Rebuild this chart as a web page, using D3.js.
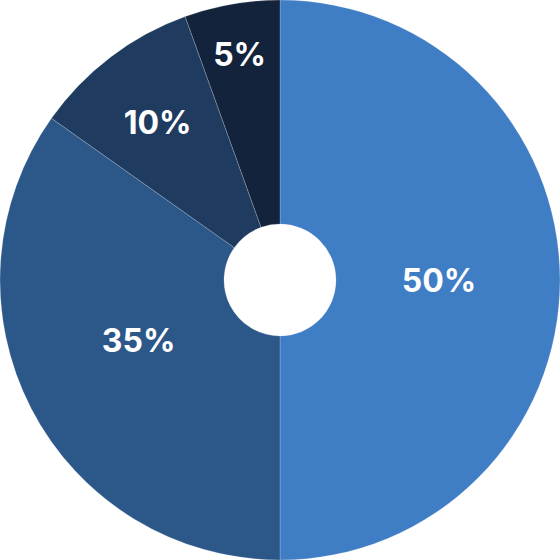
<!DOCTYPE html>
<html><head><meta charset="utf-8">
<script src="https://cdn.jsdelivr.net/npm/d3@7"></script>
<style>html,body{margin:0;padding:0;background:#fff;}svg{display:block;}</style>
</head><body>
<svg id="chart" width="560" height="560"></svg>
<script>
const categories = ["A", "B", "C", "D"];
const values = [50, 34.8, 9.7, 5.5];
const labels = ["50%", "35%", "10%", "5%"];
const colors = ["#3f7dc5", "#2c5789", "#1f3c60", "#13233b"];

const W = 560, H = 560, R = 280, r0 = 56;
const svg = d3.select("#chart");
const g = svg.append("g").attr("transform", `translate(${W/2},${H/2})`);

const pie = d3.pie().sort(null).value(d => d.v);
const arcs = pie(values.map((v, i) => ({v, i})));
const arc = d3.arc().innerRadius(r0).outerRadius(R);

g.selectAll("path").data(arcs).join("path")
  .attr("d", arc)
  .attr("fill", d => colors[d.index])
  .attr("stroke", "rgba(255,255,255,0.25)")
  .attr("stroke-width", 0.8);

// label placement style: radius and small angular nudge per slice
const labelRadius = [159, 154, 199, 228];
const labelNudge = [0.5, 4, -0.7, -0.3]; // degrees
function labelPos(d) {
  const a = (d.startAngle + d.endAngle) / 2 + labelNudge[d.index] * Math.PI / 180;
  const rr = labelRadius[d.index];
  return [Math.sin(a) * rr, -Math.cos(a) * rr];
}
g.selectAll("text").data(arcs).join("text")
  .attr("x", d => labelPos(d)[0])
  .attr("y", d => labelPos(d)[1])
  .attr("dy", "-0.02em")
  .attr("text-anchor", "middle")
  .attr("dominant-baseline", "central")
  .attr("fill", "#fff")
  .attr("font-family", "Inter, 'Noto Sans', sans-serif")
  .attr("font-weight", 700)
  .attr("font-size", 32)
  .text(d => labels[d.index]);
</script>
</body></html>
